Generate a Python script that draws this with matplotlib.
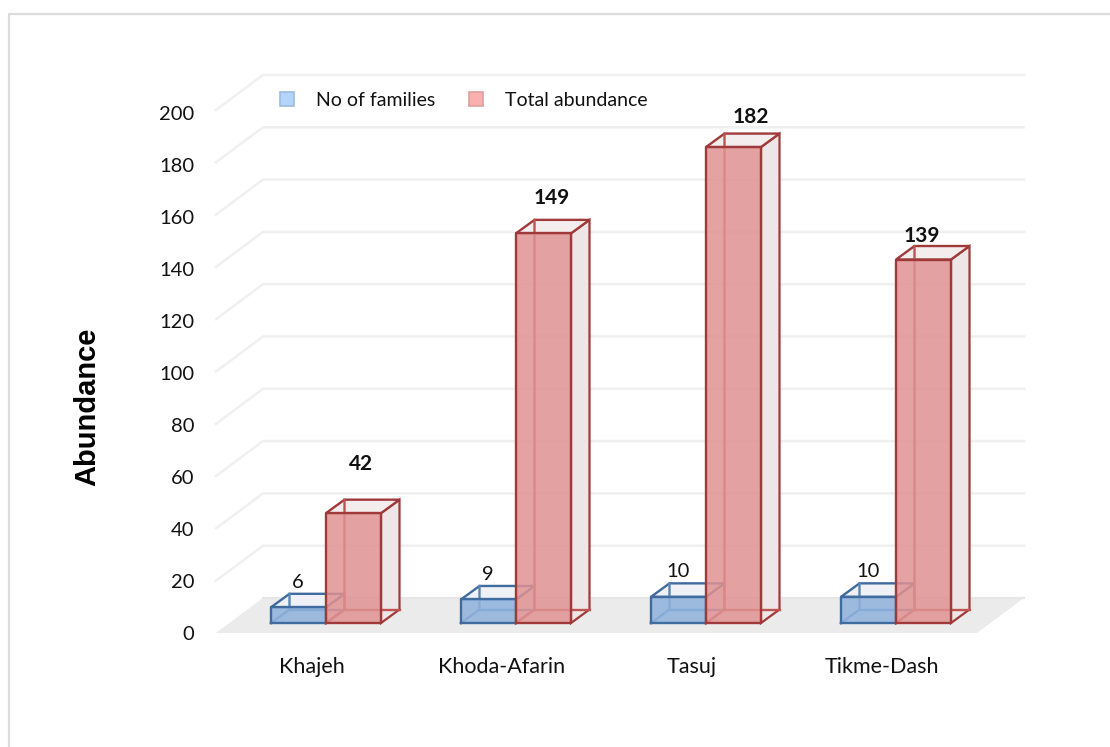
import matplotlib
matplotlib.use("Agg")
import matplotlib.pyplot as plt
from matplotlib.lines import Line2D
from matplotlib.patches import Polygon

# data
sites = ["Khajeh", "Khoda-Afarin", "Tasuj", "Tikme-Dash"]
families = [6, 9, 10, 10]
abundance = [42, 149, 182, 139]
yticks = list(range(0, 201, 20))

# hand placed red labels in the original (pixels from the default spot)
red_nudge_x = [90, 91, 100, 81]
red_nudge_y = [49, 35, 30, 24]

# pixel geometry of the fake 3d box
W, H = 1110, 747
X0, Y0 = 271, 623      # front bottom left corner of first bar
STEP = 190             # px per category
UNIT = 2.615           # px per abundance unit
BAR_W = 55 / STEP
DX, DY = 18.5 / STEP, 13.5 / UNIT   # depth of a bar


def px(x):
    return (x - X0) / STEP


def py(y):
    return (Y0 - y) / UNIT


plt.rcParams["font.family"] = ["Lato", "DejaVu Sans"]

fig = plt.figure(figsize=(W / 100, H / 100), dpi=100)
ax = fig.add_axes([0, 0, 1, 1])
ax.set_xlim(px(0), px(W))
ax.set_ylim(py(H), py(0))
ax.axis("off")

# chart border, only top and left are visible in the crop
ax.plot([px(1109), px(9), px(9)], [py(14), py(14), py(H + 5)], color="#dcdcdc", lw=1.6, zorder=0)

# floor
ax.add_patch(Polygon([(px(216), py(633)), (px(263), py(598)), (px(1024), py(598)), (px(977), py(633))],
                     fc="#ebebeb", ec="none", zorder=1))

# wall gridlines with the diagonal at the left
for v in yticks:
    yb = py(598) + v
    yf = py(633) + v
    if v > 0:
        ax.plot([px(216), px(263), px(1024)], [yf, yb, yb], color="#f0f0f0", lw=1.8, zorder=1.5,
                solid_joinstyle="round")
    else:
        ax.plot([px(263), px(1024)], [yb, yb], color="#e6e6e6", lw=1.5, zorder=1.5)
    ax.text(px(194), py(635) + v * 2.6 / UNIT, str(v), ha="right", va="center", fontsize=14.5,
            color="#111111")


def box(x, val, face, side, top, edge, inner, z):
    x1 = x + BAR_W
    bx, bx1 = x + DX, x1 + DX
    # back and inner edges first
    ax.add_patch(Polygon([(bx, DY), (bx1, DY), (bx1, val + DY), (bx, val + DY)],
                         fc=side, ec="none", alpha=0.4, zorder=z))
    ax.add_patch(Polygon([(x1, 0), (bx1, DY), (bx1, val + DY), (x1, val)],
                         fc=side, ec=edge, lw=1.6, zorder=z + 0.1))
    ax.add_patch(Polygon([(x, val), (bx, val + DY), (bx1, val + DY), (x1, val)],
                         fc=top, ec=edge, lw=1.7, zorder=z + 0.1))
    ax.plot([x, bx, bx], [0, DY, val + DY], color=inner, lw=1.7, zorder=z + 0.2)
    ax.plot([bx, bx1], [DY, DY], color=inner, lw=1.7, zorder=z + 0.2)
    ax.add_patch(Polygon([(x, 0), (x1, 0), (x1, val), (x, val)],
                         fc=face, ec="none", alpha=0.85, zorder=z + 0.3))
    ax.plot([x, x1, x1, x, x], [0, 0, val, val, 0], color=edge, lw=1.7, zorder=z + 0.4)


for i, site in enumerate(sites):
    box(i, families[i], "#8fb2dc", "#e9ecf2", "#eff1f6", "#3f6b9f", "#5a84b8", 3)
    box(i + BAR_W, abundance[i], "#e09292", "#eee6e6", "#f4eded", "#a03a3a", "#bf5350", 4)

    ax.text(i + 27 / STEP, families[i] + 25 / UNIT, str(families[i]), ha="center", va="center",
            fontsize=14.5, color="#111111", zorder=6)
    ax.text(i + red_nudge_x[i] / STEP, abundance[i] + red_nudge_y[i] / UNIT, str(abundance[i]),
            ha="center", va="center", fontsize=15, fontweight="bold", color="#111111", zorder=6)
    ax.text(i + 41 / STEP, py(667), site, ha="center", va="center", fontsize=15.5, color="#111111")

ax.text(px(87), py(407), "Abundance", rotation=90, ha="center", va="center", fontsize=21,
        fontweight="bold", family="Liberation Sans", color="black")

handles = [
    Line2D([], [], ls="none", marker="s", ms=10, mfc="#b3d5fb", mec="#9dbbdd", mew=1.2, label="No of families"),
    Line2D([], [], ls="none", marker="s", ms=10, mfc="#fbb0b0", mec="#dd9d9d", mew=1.2, label="Total abundance"),
]
ax.legend(handles=handles, ncol=2, loc="center left", bbox_to_anchor=(px(256), py(100)),
          bbox_transform=ax.transData, frameon=False, fontsize=14, handlelength=1.4,
          handletextpad=0.8, columnspacing=1.36, labelcolor="#111111")

plt.savefig("out.png", dpi=100)
